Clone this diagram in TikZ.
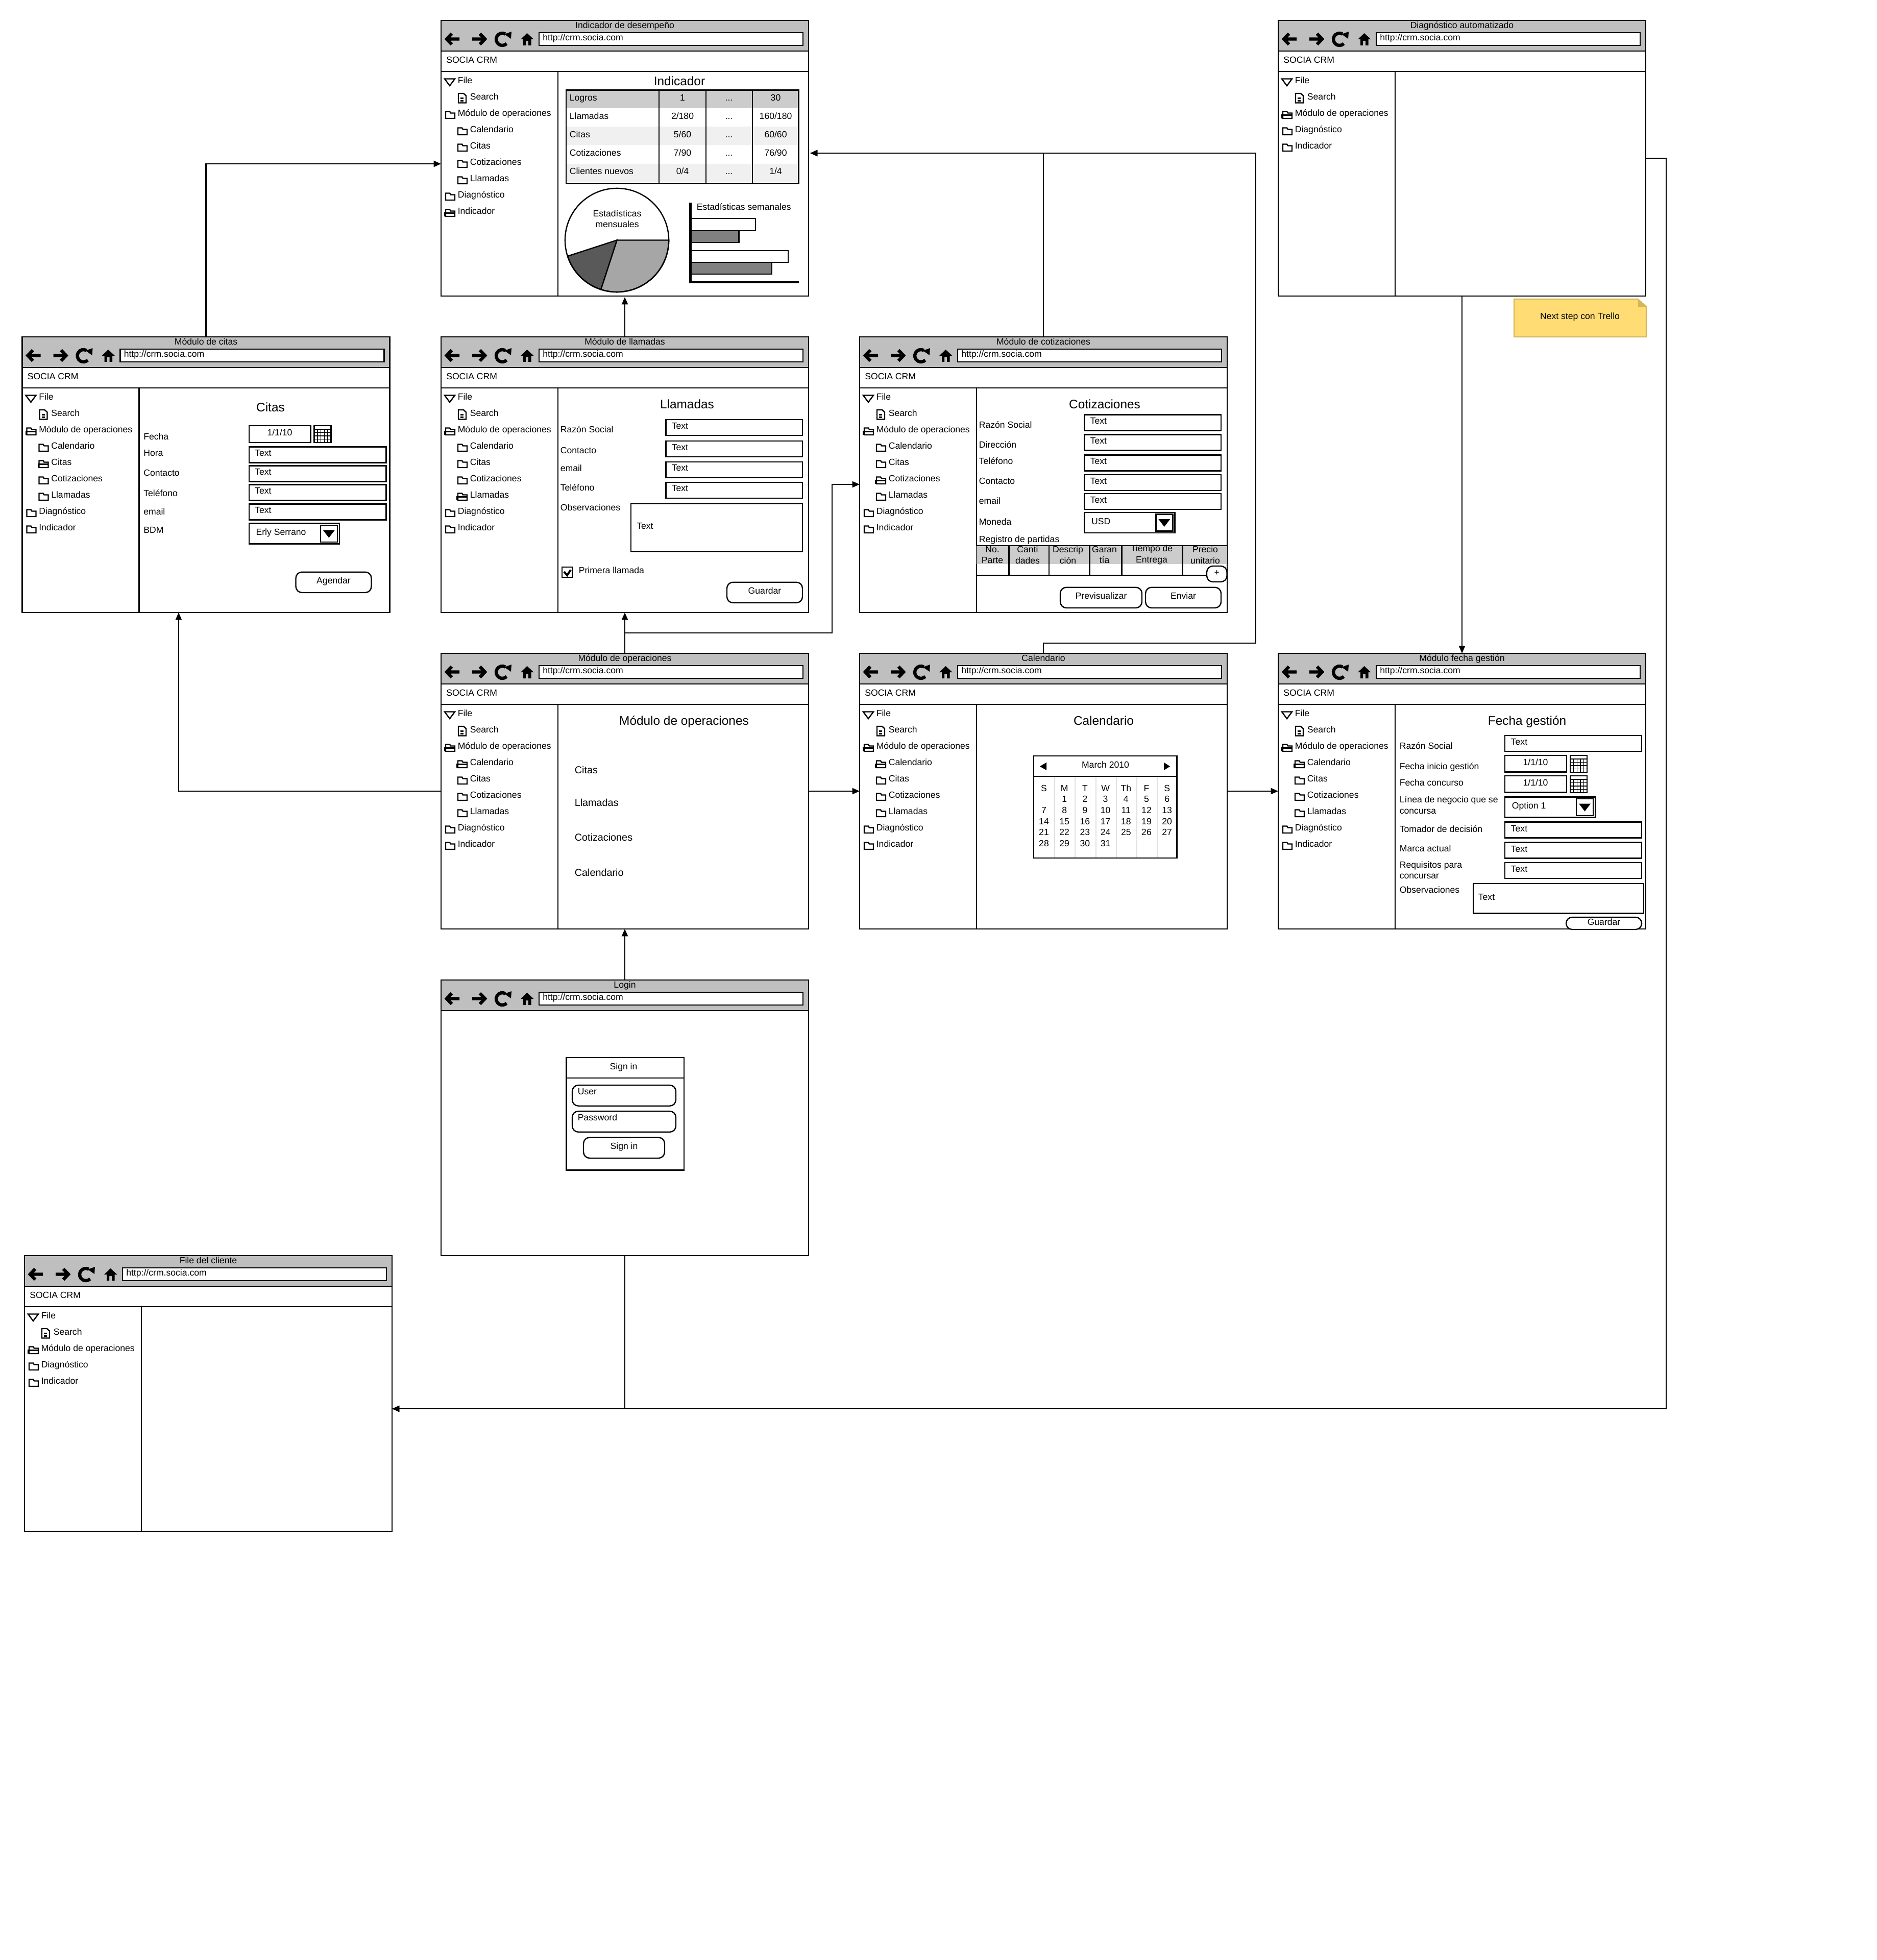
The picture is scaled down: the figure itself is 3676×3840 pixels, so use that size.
\documentclass[tikz,border=0pt]{standalone}
\usepackage{fontspec}
\setmainfont{Liberation Sans}
\usetikzlibrary{arrows.meta,positioning,calc}
\definecolor{crmbar}{HTML}{BFBFBF}
\definecolor{crmhead}{HTML}{CCCCCC}
\definecolor{crmrow}{HTML}{F0F0F0}
\definecolor{crmnote}{HTML}{FFDC74}
\definecolor{crmfold}{HTML}{D6B656}
\newcommand{\crmicotri}{\draw[crm line] (-2,-4) -- (18,-4) -- (8,9.5) -- cycle;}
\newcommand{\crmicodoc}{\draw[crm line] (1,-7.5) -- (11,-7.5) -- (16,-3) -- (16,11) -- (1,11) -- cycle;
	\draw[crm line] (5,2) -- (11,2) (5,7) -- (11,7);}
\newcommand{\crmicofold}{\draw[crm line] (0,9.5) -- (0,-4) -- (8,-4) -- (10,-1) -- (18,-1) -- (18,9.5) -- cycle;}
\newcommand{\crmicoopen}{\draw[crm line] (0,9.5) -- (0,-4) -- (8,-4) -- (10,-1) -- (18,-1) -- (18,9.5) -- cycle;
	\draw[crm line] (-1.5,9.5) -- (-1.5,3) -- (18,3);}
\newcommand{\crmmenu}[2]{%
	\foreach \lbl/\lev/\ico [count=\i] in {#2}{
		\pgfmathsetmacro{\xx}{9+24*\lev}
		\pgfmathsetmacro{\yy}{118.5+32*(\i-1)}
		\begin{scope}[shift={(\xx,\yy)}]
			\csname crmico\ico\endcsname
		\end{scope}
		\node[crm text] (#1-m\i) at (\xx+23,\yy) {\lbl};
	}
}
\newcommand{\crmbody}[1]{%
	\draw[crm line] (0,100) -- (720,100) (229,100) -- (229,540);
	\node[crm text] (#1-brand) at (9.5,78.5) {SOCIA CRM};
}
\newcommand{\crmfull}[7]{%
	\crmbody{#1}
	\crmmenu{#1}{File/0/tri,Search/1/doc,Módulo de operaciones/0/#2,Calendario/1/#3,Citas/1/#4,Cotizaciones/1/#5,Llamadas/1/#6,Diagnóstico/0/fold,Indicador/0/#7}
}
\newcommand{\crmshort}[1]{%
	\crmbody{#1}
	\crmmenu{#1}{File/0/tri,Search/1/doc,Módulo de operaciones/0/open,Diagnóstico/0/fold,Indicador/0/fold}
}
\newcommand{\crmwindow}[5]{%
	\node[crm frame] (#1) at (#2,#3) {};
	\begin{scope}[shift={(#2,#3)}]
		\draw[crm line,fill=crmbar] (0,0) rectangle (720,60);
		\node[crm text,anchor=center] (#1-title) at (360,10) {#4};
		\draw[crm thick] (36,36.5) -- (12,36.5) (21,26) -- (11,36.5) -- (21,47);
		\draw[crm thick] (61,36.5) -- (86,36.5) (76,26) -- (86,36.5) -- (76,47);
		\draw[crm thick] (120,37) ++(60:3pt) arc[start angle=60,end angle=315,radius=3pt];
		\fill (124,27) -- (138,22) -- (137,36) -- cycle;
		\fill (168.5,25) -- (181.5,37) -- (176.5,37) -- (176.5,49) -- (171,49) -- (171,40) -- (166,40) -- (166,49) -- (161,49) -- (161,37) -- (156,37) -- cycle;
		\draw[crm box] (192,24) rectangle (709,49);
		\node[crm text] (#1-url) at (198.5,34.5) {http://crm.socia.com};
		#5
	\end{scope}
}
\newcommand{\crmcal}[2]{%
	\draw[crm line,fill=white] (#1,#2) rectangle ++(33,33);
	\draw[crm line] (#1,#2) ++(0,7) -- ++(33,0);
	\foreach \k in {1,...,3}{\draw[crm thin] (#1,#2) ++(0,7+6.5*\k) -- ++(33,0);}
	\foreach \k in {1,...,4}{\draw[crm thin] (#1,#2) ++(6.6*\k,7) -- ++(0,26);}
}
\newcommand{\crmcombo}[4]{%
	\draw[crm box] (#2,#3) rectangle ++(177,40);
	\draw[crm box] (#2,#3) ++(140,3.5) rectangle ++(33,33);
	\fill (#2,#3) ++(145,13) -- ++(23,0) -- ++(-11.5,15) -- cycle;
	\node[crm text] (#1) at ($(#2,#3)+(13,18)$) {#4};
}
\newcommand{\crmbtn}[6]{%
	\draw[crm btn] (#2,#3) rectangle (#4,#5);
	\node[crm text,anchor=center] (#1) at ({(#2+#4)/2},{(#3+#5)/2-2}) {#6};
}
\begin{document}
\begin{tikzpicture}[x=0.25pt,y=-0.25pt]
	\tikzset{
		crm line/.style={draw,line width=0.6pt},
		crm thin/.style={draw,line width=0.35pt},
		crm thick/.style={draw,line width=1.6pt},
		crm box/.style={draw,line width=0.6pt,fill=white},
		crm btn/.style={draw,line width=0.6pt,fill=white,rounded corners=3pt},
		crm frame/.style={draw,line width=0.6pt,fill=white,anchor=north west,inner sep=0,outer sep=0,minimum width=180pt,minimum height=135pt},
		crm text/.style={inner sep=0,anchor=west,yshift=0.3pt,font=\fontsize{4.4}{5.4}\selectfont,text height=3.15pt,text depth=0pt},
		crm link/.style={crm text,font=\fontsize{4.95}{6}\selectfont,text height=3.55pt},
		crm multi/.style={inner sep=0,align=center,yshift=0.3pt,font=\fontsize{4.4}{5.4}\selectfont},
		crm head/.style={inner sep=0,anchor=center,font=\fontsize{6.1}{7.5}\selectfont,text height=4.4pt,text depth=0pt},
		crm flow/.style={draw,line width=0.6pt,-{Triangle[length=3.6pt,width=3pt]}}
	}
	\useasboundingbox (0,0) rectangle (3676,3840);
	\crmwindow{ind}{864}{40}{Indicador de desempeño}{
		\crmfull{ind}{fold}{fold}{fold}{fold}{fold}{open}
		\node[crm head] (ind-head) at (467,119) {Indicador};
		\fill[crmhead] (245,136.7) rectangle (700.5,172.2);
		\fill[crmrow] (245,208) rectangle (700.5,244.5);
		\fill[crmrow] (245,280.7) rectangle (700.5,316.5);
		\draw[crm line] (245,136.7) rectangle (700.5,320);
		\foreach \xx in {427,519,610}{\draw[crm line] (\xx,136.7) -- (\xx,320);}
		\foreach \lbl/\va/\vb/\yy [count=\i] in {Logros/1/30/152.5,Llamadas/{2/180}/{160/180}/188.5,Citas/{5/60}/{60/60}/224.3,Cotizaciones/{7/90}/{76/90}/260,Clientes nuevos/{0/4}/{1/4}/296}{
			\node[crm text] (ind-r\i) at (251,\yy) {\lbl};
			\node[crm text,anchor=center] (ind-a\i) at (473,\yy) {\va};
			\node[crm text,anchor=center] (ind-d\i) at (564,\yy) {...};
			\node[crm text,anchor=center] (ind-b\i) at (655.5,\yy) {\vb};
		}
		\filldraw[crm line,fill=black!35] (344.5,430.5) -- +(0:25.4pt) arc[start angle=0,end angle=-108,radius=25.4pt] -- cycle;
		\filldraw[crm line,fill=black!65] (344.5,430.5) -- +(-108:25.4pt) arc[start angle=-108,end angle=-162,radius=25.4pt] -- cycle;
		\draw[crm line] (344.5,430.5) circle[radius=25.4pt];
		\node[crm multi] (ind-pie) at (345,390) {Estadísticas\\mensuales};
		\node[crm text] (ind-bars) at (500,366.7) {Estadísticas semanales};
		\draw[crm box] (488.5,388) rectangle (616,412);
		\draw[crm line,fill=black!50] (488.5,412) rectangle (583.6,435);
		\draw[crm box] (488.5,451) rectangle (680,474);
		\draw[crm line,fill=black!50] (488.5,474) rectangle (648,497);
		\draw[line width=1.1pt] (488.5,357) -- (488.5,513) -- (700.5,513);
	}
	\crmwindow{dia}{2504}{40}{Diagnóstico automatizado}{
		\crmshort{dia}
	}
	\crmwindow{cit}{43.5}{660}{Módulo de citas}{
		\crmfull{cit}{open}{fold}{open}{fold}{fold}{fold}
		\node[crm head] (cit-head) at (486.5,137.8) {Citas};
		\foreach \lbl/\yy [count=\i] in {Fecha/196,Hora/228.5,Contacto/267,Teléfono/307,email/343.6,BDM/379.6}{
			\node[crm text] (cit-l\i) at (237,\yy) {\lbl};
		}
		\draw[crm box] (444.3,174) rectangle (565,207);
		\node[crm text,anchor=center] (cit-date) at (504.5,188.5) {1/1/10};
		\crmcal{572}{174}
		\foreach \yy [count=\i] in {215.5,252.6,289.6,327.4}{
			\draw[crm box] (444.3,\yy) rectangle (713,\yy+31);
			\node[crm text] (cit-b\i) at (455,\yy+13) {Text};
		}
		\crmcombo{cit-bdm}{444.3}{365.6}{Erly Serrano}
		\crmbtn{cit-save}{536}{460.7}{684}{501}{Agendar}
	}
	\crmwindow{lla}{864}{660}{Módulo de llamadas}{
		\crmfull{lla}{open}{fold}{fold}{fold}{open}{fold}
		\node[crm head] (lla-head) at (482,131.5) {Llamadas};
		\foreach \lbl/\yy [count=\i] in {Razón Social/182,Contacto/223,email/258.5,Teléfono/296.7,Observaciones/335}{
			\node[crm text] (lla-l\i) at (233,\yy) {\lbl};
		}
		\foreach \yy [count=\i] in {162,204,244.8,284.8}{
			\draw[crm box] (440.3,\yy) rectangle (708,\yy+31);
			\node[crm text] (lla-b\i) at (451,\yy+13) {Text};
		}
		\draw[crm box] (372,326.7) rectangle (708,421);
		\node[crm text] (lla-obs) at (382.5,371.8) {Text};
		\draw[crm box] (237,450.7) rectangle (257,471);
		\draw[draw,line width=1pt] (241,460) -- (247,467) -- (254,456.5);
		\node[crm text] (lla-first) at (269,458.5) {Primera llamada};
		\crmbtn{lla-save}{560}{480.7}{708}{521}{Guardar}
	}
	\crmwindow{cot}{1684}{660}{Módulo de cotizaciones}{
		\crmfull{cot}{open}{fold}{fold}{open}{fold}{fold}
		\node[crm head] (cot-head) at (480,131.5) {Cotizaciones};
		\foreach \lbl/\yy [count=\i] in {Razón Social/173,Dirección/212,Teléfono/244.4,Contacto/283,email/322,Moneda/363,Registro de partidas/397}{
			\node[crm text] (cot-l\i) at (233,\yy) {\lbl};
		}
		\foreach \yy [count=\i] in {152.6,191.5,231.5,270,307}{
			\draw[crm box] (440.3,\yy) rectangle (708,\yy+31);
			\node[crm text] (cot-b\i) at (451,\yy+13) {Text};
		}
		\crmcombo{cot-cur}{440.3}{344}{USD}
		\fill[crmhead] (229,409) rectangle (720,444.5);
		\draw[crm line] (229,409) -- (720,409) (229,466.7) -- (680,466.7);
		\foreach \xx in {292.5,371,450.5,513.5,632.5}{\draw[crm line] (\xx,409) -- (\xx,466.7);}
		\node[crm multi] (cot-c1) at (260,428.2) {No.\\Parte};
		\node[crm multi] (cot-c2) at (329,428.2) {Canti\\dades};
		\node[crm multi] (cot-c3) at (408,428.2) {Descrip\\ción};
		\node[crm multi] (cot-c4) at (479.5,428.2) {Garan\\tía};
		\node[crm multi] (cot-c5) at (572,428.2) {Tiempo de\\Entrega};
		\node[crm multi] (cot-c6) at (677,428.2) {Precio\\unitario};
		\crmbtn{cot-add}{680}{449}{719.5}{480}{+}
		\crmbtn{cot-prev}{393}{490.7}{553}{531}{Previsualizar}
		\crmbtn{cot-send}{560}{490.7}{708}{531}{Enviar}
	}
	\crmwindow{ope}{864}{1280}{Módulo de operaciones}{
		\crmfull{ope}{open}{open}{fold}{fold}{fold}{fold}
		\node[crm head] (ope-head) at (476,131.5) {Módulo de operaciones};
		\foreach \lbl/\yy [count=\i] in {Citas/230,Llamadas/294,Cotizaciones/362,Calendario/431}{
			\node[crm link] (ope-l\i) at (261,\yy) {\lbl};
		}
	}
	\crmwindow{cal}{1684}{1280}{Calendario}{
		\crmfull{cal}{open}{open}{fold}{fold}{fold}{fold}
		\node[crm head] (cal-head) at (478,131.5) {Calendario};
		\foreach \xx in {382,422,462.5,502.5,543,583}{\draw[line width=0.5pt,black!12] (\xx,241) -- (\xx,401);}
		\draw[crm line] (341,201) rectangle (621.5,401) (341,241) -- (621.5,241);
		\node[crm text,anchor=center] (cal-month) at (481.5,219) {March 2010};
		\fill (353,221.5) -- (366,213.7) -- (366,229) -- cycle;
		\fill (608,221.5) -- (596,213.7) -- (596,229) -- cycle;
		\foreach \dd [count=\i] in {S,M,T,W,Th,F,S}{
			\node[crm text,anchor=center] (cal-d\i) at (361+40.2*\i-40.2,265) {\dd};
		}
		\foreach \dd [count=\i from 1] in {1,...,31}{
			\pgfmathtruncatemacro{\col}{mod(\dd,7)}
			\pgfmathtruncatemacro{\row}{int(\dd/7)}
			\node[crm text,anchor=center] (cal-n\i) at (361+40.2*\col,286.7+21.7*\row) {\dd};
		}
	}
	\crmwindow{fec}{2504}{1280}{Módulo fecha gestión}{
		\crmfull{fec}{open}{open}{fold}{fold}{fold}{fold}
		\node[crm head] (fec-head) at (487.5,131.5) {Fecha gestión};
		\foreach \lbl/\yy [count=\i] in {Razón Social/182,Fecha inicio gestión/222,Fecha concurso/254,Tomador de decisión/345,Marca actual/383,Observaciones/464}{
			\node[crm text] (fec-l\i) at (237,\yy) {\lbl};
		}
		\node[crm multi,align=left,anchor=west] (fec-line) at (237,298) {Línea de negocio que se\\concursa};
		\node[crm multi,align=left,anchor=west] (fec-req) at (237,426) {Requisitos para\\concursar};
		\foreach \yy [count=\i] in {161,330.4,370.4,410}{
			\draw[crm box] (444,\yy) rectangle (712,\yy+31);
			\node[crm text] (fec-b\i) at (455,\yy+13.5) {Text};
		}
		\foreach \yy [count=\i] in {200,240}{
			\draw[crm box] (444,\yy) rectangle (565,\yy+32.6);
			\node[crm text,anchor=center] (fec-date\i) at (504,\yy+14) {1/1/10};
			\crmcal{572}{\yy}
		}
		\crmcombo{fec-opt}{444}{281.5}{Option 1}
		\draw[crm box] (382,450.7) rectangle (716,509.6);
		\node[crm text] (fec-obs) at (391,478.5) {Text};
		\crmbtn{fec-save}{564}{517}{712}{541}{Guardar}
	}
	\crmwindow{log}{864}{1920}{Login}{
		\draw[crm line] (0,60) -- (720,60);
		\draw[crm line] (245.5,152) rectangle (476,372.6) (245.5,192) -- (476,192);
		\node[crm text,anchor=center] (log-head) at (357.5,170.7) {Sign in};
		\draw[crm btn] (257,206) rectangle (460,246.7);
		\node[crm text] (log-user) at (267,219) {User};
		\draw[crm btn] (257,257) rectangle (460,297.8);
		\node[crm text] (log-pass) at (267,270) {Password};
		\crmbtn{log-go}{279}{308.5}{438}{349}{Sign in}
	}
	\crmwindow{cli}{48}{2460}{File del cliente}{
		\crmshort{cli}
	}
	\filldraw[draw=crmfold,fill=crmnote,line width=0.6pt] (2966,586) -- (3208.5,586) -- (3225,601) -- (3225,660) -- (2966,660) -- cycle;
	\fill[crmfold] (3208.5,586) -- (3225,601) -- (3208.5,601) -- cycle;
	\node[crm text,anchor=center] (trello) at (3095,620.6) {Next step con Trello};
	\coordinate (bus) at (2460,300);
	\coordinate (ope-turn) at (1630,1240);
	\coordinate (dia-turn) at (3264,2760);
	\draw[crm flow] (cit.north) |- ([yshift=-2.75pt]ind.west);
	\draw[crm flow] (lla.north) -- ([yshift=-0.5pt]ind.south);
	\draw[crm flow] (cot.north) |- ([xshift=0.75pt,yshift=2.5pt]ind.east);
	\draw[crm flow] (cal.north) -- ++(0,-20) -| (bus) -- ([xshift=0.75pt,yshift=2.5pt]ind.east);
	\draw[crm flow] (ope.north) -- (lla.south);
	\draw[crm flow] (ope.north) |- (ope-turn) |- ([yshift=-4.75pt]cot.west);
	\draw[crm flow] (ope.west) -| ([xshift=-13.4pt]cit.south);
	\draw[crm flow] (ope.east) -- (cal.west);
	\draw[crm flow] (cal.east) -- (fec.west);
	\draw[crm flow] (dia.south) -- (fec.north);
	\draw[crm flow] (log.north) -- (ope.south);
	\draw[crm flow] (log.south) |- ([yshift=-7.5pt]cli.east);
	\draw[crm flow] (dia.east) -| (dia-turn) -- ([yshift=-7.5pt]cli.east);
\end{tikzpicture}
\end{document}
